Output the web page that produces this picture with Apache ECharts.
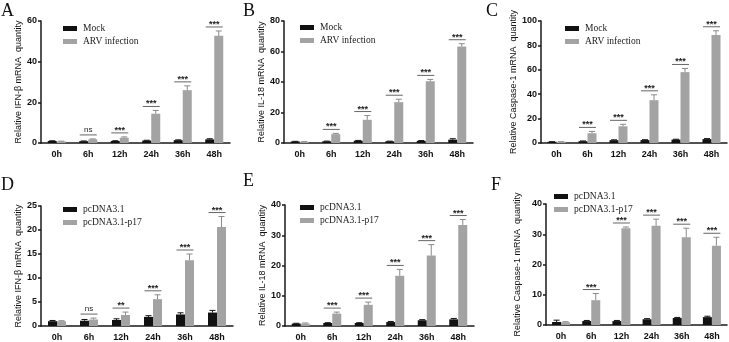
<!DOCTYPE html>
<html><head><meta charset="utf-8">
<script src="https://cdn.jsdelivr.net/npm/echarts@6/dist/echarts.min.js"></script>
<style>html,body{margin:0;padding:0;background:#fff}#c{width:729px;height:342px}</style>
</head><body><div id="c"></div>
<script>
const categories = ['0h', '6h', '12h', '24h', '36h', '48h'];

// Panel A — IFN-β, infection
const mockA = [1.0, 0.9, 1.0, 1.2, 1.4, 1.8];
const mockAErr = [0.1, 0.1, 0.1, 0.15, 0.15, 0.3];
const arvA = [0.8, 1.8, 2.6, 14.4, 26.0, 52.7];
const arvAErr = [0.1, 0.2, 0.4, 1.6, 2.1, 2.4];
const sigA = ['', 'ns', '***', '***', '***', '***'];
// Panel B — IL-18, infection
const mockB = [1.0, 1.1, 1.5, 1.1, 1.4, 2.2];
const mockBErr = [0.1, 0.15, 0.2, 0.1, 0.2, 0.6];
const arvB = [0.8, 5.8, 15.2, 26.8, 40.5, 63.3];
const arvBErr = [0.1, 0.5, 2.8, 1.9, 1.2, 1.8];
const sigB = ['', '***', '***', '***', '***', '***'];
// Panel C — Caspase-1, infection
const mockC = [1.0, 1.5, 2.3, 2.4, 2.8, 3.2];
const mockCErr = [0.1, 0.2, 0.3, 0.3, 0.3, 0.4];
const arvC = [1.0, 8.0, 13.7, 35.1, 58.1, 88.5];
const arvCErr = [0.1, 1.5, 1.6, 4.4, 3.0, 3.5];
const sigC = ['', '***', '***', '***', '***', '***'];
// Panel D — IFN-β, p17
const ctrlD = [1.0, 1.1, 1.25, 1.9, 2.4, 2.8];
const ctrlDErr = [0.15, 0.25, 0.25, 0.25, 0.35, 0.45];
const p17D = [1.0, 1.35, 2.3, 5.6, 13.7, 20.6];
const p17DErr = [0.1, 0.3, 0.6, 0.9, 1.3, 2.2];
const sigD = ['', 'ns', '**', '***', '***', '***'];
// Panel E — IL-18, p17
const ctrlE = [0.8, 1.0, 1.0, 1.3, 1.9, 2.2];
const ctrlEErr = [0.1, 0.1, 0.1, 0.2, 0.2, 0.3];
const p17E = [0.8, 4.1, 7.0, 16.6, 23.3, 33.4];
const p17EErr = [0.2, 0.5, 0.9, 2.1, 3.6, 1.8];
const sigE = ['', '***', '***', '***', '***', '***'];
// Panel F — Caspase-1, p17
const ctrlF = [1.0, 1.3, 1.3, 1.9, 2.3, 2.6];
const ctrlFErr = [0.6, 0.2, 0.2, 0.2, 0.2, 0.3];
const p17F = [0.9, 8.2, 32.0, 32.8, 29.0, 26.2];
const p17FErr = [0.2, 2.2, 0.4, 2.2, 3.0, 2.8];
const sigF = ['', '***', '***', '***', '***', '***'];

const yMaxes = [60, 80, 100, 25, 40, 40];
const yIntervals = [20, 20, 20, 5, 10, 10];
const yTitles = ['Relative IFN-β mRNA  quantity', 'Relative IL-18 mRNA  quantity', 'Relative Caspase-1 mRNA  quantity',
                 'Relative IFN-β mRNA  quantity', 'Relative IL-18 mRNA  quantity', 'Relative Caspase-1 mRNA  quantity'];
const panelLetters = ['A', 'B', 'C', 'D', 'E', 'F'];
const seriesNames1 = ['Mock', 'ARV infection'];
const seriesNames2 = ['pcDNA3.1', 'pcDNA3.1-p17'];

const panels = [
  { a: mockA, ae: mockAErr, b: arvA, be: arvAErr, sig: sigA, names: seriesNames1 },
  { a: mockB, ae: mockBErr, b: arvB, be: arvBErr, sig: sigB, names: seriesNames1 },
  { a: mockC, ae: mockCErr, b: arvC, be: arvCErr, sig: sigC, names: seriesNames1 },
  { a: ctrlD, ae: ctrlDErr, b: p17D, be: p17DErr, sig: sigD, names: seriesNames2 },
  { a: ctrlE, ae: ctrlEErr, b: p17E, be: p17EErr, sig: sigE, names: seriesNames2 },
  { a: ctrlF, ae: ctrlFErr, b: p17F, be: p17FErr, sig: sigF, names: seriesNames2 }
];

// layout (pixels)
const grids = [
  { left: 41, top: 21, width: 189, height: 122 },
  { left: 284, top: 21, width: 189, height: 122 },
  { left: 541, top: 21, width: 186, height: 122 },
  { left: 41, top: 206, width: 192, height: 121 },
  { left: 285, top: 205, width: 189, height: 122 },
  { left: 546, top: 204, width: 181, height: 121 }
];
const nameGaps = [17, 17, 19, 17, 17, 24];
const legendPos = [
  { left: 63, top: 23 }, { left: 300, top: 22 }, { left: 565, top: 23 },
  { left: 63, top: 204 }, { left: 300, top: 202 }, { left: 554, top: 191 }
];
const letterPos = [[1, 2], [243, 2], [486, 2], [1, 176], [243, 172], [491, 176]];

const BAR = 9;
const BLACK = '#111111';
const GRAY = '#a3a3a3';
const AX = '#1a1a1a';

function errSeries(gi, vals, errs, side, color) {
  return {
    type: 'custom', xAxisIndex: gi, yAxisIndex: gi, z: 3, silent: true,
    data: vals.map((v, i) => [i, v, v + errs[i]]),
    renderItem(params, api) {
      const c0 = api.coord([api.value(0), api.value(1)]);
      const c1 = api.coord([api.value(0), api.value(2)]);
      const x = c0[0] + side * BAR / 2;
      return { type: 'group', children: [
        { type: 'line', shape: { x1: x, y1: c0[1], x2: x, y2: c1[1] }, style: { stroke: color, lineWidth: 1 } },
        { type: 'line', shape: { x1: x - 3, y1: c1[1], x2: x + 3, y2: c1[1] }, style: { stroke: color, lineWidth: 1 } }
      ]};
    }
  };
}

function sigSeries(gi, p) {
  const data = [];
  p.sig.forEach((s, i) => {
    if (s) data.push([i, Math.max(p.a[i] + p.ae[i], p.b[i] + p.be[i]), s]);
  });
  return {
    type: 'custom', xAxisIndex: gi, yAxisIndex: gi, z: 4, silent: true,
    data: data,
    renderItem(params, api) {
      const c = api.coord([api.value(0), api.value(1)]);
      const y = c[1] - 4;
      const label = data[params.dataIndex][2];
      const isNs = label === 'ns';
      return { type: 'group', children: [
        { type: 'line', shape: { x1: c[0] - 8.5, y1: y, x2: c[0] + 8.5, y2: y }, style: { stroke: '#666', lineWidth: 1 } },
        { type: 'text', style: { x: c[0], y: isNs ? y - 1 : y + 2, text: label, align: 'center', verticalAlign: 'bottom',
            fill: '#222', font: isNs ? '8px "Liberation Sans"' : 'bold 9px "Liberation Sans"' } }
      ]};
    }
  };
}

const option = {
  animation: false,
  backgroundColor: '#fff',
  grid: grids.map(g => Object.assign({ containLabel: false }, g)),
  xAxis: grids.map((g, i) => ({
    type: 'category', gridIndex: i, data: categories,
    axisLine: { lineStyle: { color: AX, width: 1.5 } },
    axisTick: { show: false },
    axisLabel: { color: '#111', fontFamily: 'Liberation Sans', fontWeight: 'bold', fontSize: 9, margin: 7 }
  })),
  yAxis: grids.map((g, i) => ({
    type: 'value', gridIndex: i, min: 0, max: yMaxes[i], interval: yIntervals[i],
    splitLine: { show: false },
    axisLine: { show: true, lineStyle: { color: AX, width: 1.5 } },
    axisTick: { show: true, length: 3, lineStyle: { color: AX, width: 1.5 } },
    axisLabel: { color: '#111', fontFamily: 'Liberation Sans', fontWeight: 'bold', fontSize: 9, margin: 4 },
    name: yTitles[i], nameLocation: 'middle', nameRotate: 90, nameGap: nameGaps[i],
    nameTextStyle: { color: '#111', fontFamily: 'Liberation Sans', fontSize: 9 }
  })),
  legend: panels.map((p, i) => ({
    orient: 'vertical', left: legendPos[i].left, top: legendPos[i].top, padding: 0,
    itemWidth: 14, itemHeight: 5, itemGap: 2, icon: 'rect', selectedMode: false,
    data: p.names,
    textStyle: { fontFamily: 'Liberation Serif', fontSize: 9.5, color: '#222', lineHeight: 11, padding: [0, 0, 0, 1] }
  })),
  graphic: panelLetters.map((L, i) => ({
    type: 'text', left: letterPos[i][0], top: letterPos[i][1],
    style: { text: L, font: '18px "Liberation Serif"', fill: '#111' }
  })),
  series: []
};

panels.forEach((p, i) => {
  option.series.push({
    type: 'bar', name: p.names[0], xAxisIndex: i, yAxisIndex: i, data: p.a,
    barWidth: BAR, barGap: '0%', itemStyle: { color: BLACK }, z: 2
  });
  option.series.push({
    type: 'bar', name: p.names[1], xAxisIndex: i, yAxisIndex: i, data: p.b,
    barWidth: BAR, barGap: '0%', itemStyle: { color: GRAY }, z: 2
  });
  option.series.push(errSeries(i, p.a, p.ae, -1, BLACK));
  option.series.push(errSeries(i, p.b, p.be, 1, '#8a8a8a'));
  option.series.push(sigSeries(i, p));
});

const chart = echarts.init(document.getElementById('c'), null, { renderer: 'canvas' });
chart.setOption(option);
</script>
</body></html>
